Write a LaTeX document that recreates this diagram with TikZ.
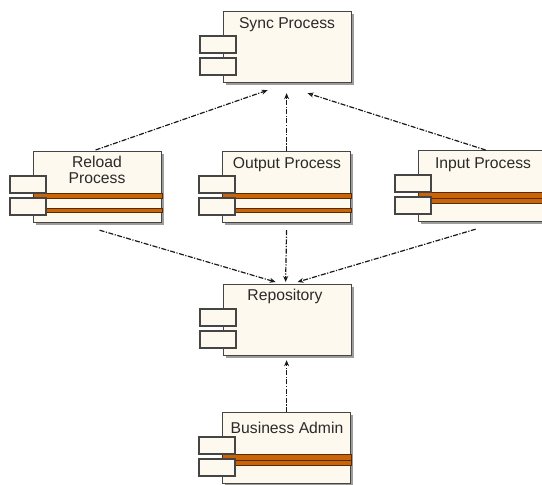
\documentclass[tikz,border=0pt]{standalone}
\usepackage{fontspec}
\setmainfont{Liberation Sans}
\usetikzlibrary{arrows.meta,shadows}

\definecolor{compfill}{HTML}{FEF9EE}
\definecolor{compline}{HTML}{454545}
\definecolor{barfill}{HTML}{C8650A}
\definecolor{barline}{HTML}{5A2A00}
\definecolor{txt}{HTML}{2A2A2A}

\tikzset{
  comp/.style={draw=compline, line width=1.2pt, fill=compfill, anchor=north west,
    minimum width=128pt, minimum height=71pt, inner sep=0pt,
    drop shadow={shadow xshift=2.5pt, shadow yshift=-2.5pt, fill=black!55, opacity=0.7}},
  port/.style={draw=compline, line width=1.1pt, fill=compfill},
  bar/.style={draw=barline, line width=0.7pt, fill=barfill},
  title/.style={text=txt, font=\fontsize{15.7}{16.5}\selectfont, align=center, inner sep=0pt},
  dep/.style={draw=black!90, line width=1.2pt,
    dash pattern=on 5pt off 1.5pt on 1.2pt off 1.5pt,
    -{Stealth[length=6pt,width=5pt]}},
}

% two port tabs on the left side of a component box
\newcommand\comptabs[1]{%
  \draw[port] ([xshift=-23pt,yshift=-25pt]#1.north west) rectangle ++(36,17);
  \draw[port] ([xshift=-23pt,yshift=-47pt]#1.north west) rectangle ++(36,17);
}
% orange bars: separated pair
\newcommand\barsapart[1]{%
  \draw[bar] ([yshift=-42pt]#1.north west) rectangle ([yshift=-47.5pt]#1.north east);
  \draw[bar] ([xshift=13pt,yshift=-57pt]#1.north west) rectangle ([yshift=-61.5pt]#1.north east);
}
% orange bars: adjoining pair
\newcommand\barsjoined[1]{%
  \draw[bar] ([yshift=-42.5pt]#1.north west) rectangle ([yshift=-48pt]#1.north east);
  \draw[bar] ([xshift=13pt,yshift=-48pt]#1.north west) rectangle ([yshift=-53pt]#1.north east);
}

\begin{document}
\begin{tikzpicture}[x=1pt,y=-1pt]
\useasboundingbox (0,0) rectangle (542,485);
\clip (0,0) rectangle (542,485);

% component boxes
\node[comp] (sync)   at (223,11)  {};
\node[comp] (reload) at (33,151)  {};
\node[comp] (output) at (222,151) {};
\node[comp] (input)  at (418,150) {};
\node[comp] (repo)   at (223,284) {};
\node[comp] (admin)  at (222,412) {};

% bars
\barsapart{reload}
\barsapart{output}
\barsjoined{input}
\barsjoined{admin}

% port tabs
\comptabs{sync}
\comptabs{reload}
\comptabs{output}
\comptabs{input}
\comptabs{repo}
\comptabs{admin}

% titles
\node[title] (syncT)   at (287,25)  {Sync Process};
\node[title] (reloadT) at (97,170)  {Reload\\Process};
\node[title] (outputT) at (287,165) {Output Process};
\node[title] (inputT)  at (483,165) {Input Process};
\node[title] (repoT)   at (285,296) {Repository};
\node[title] (adminT)  at (287,428) {Business Admin};

% dependencies towards Sync Process
\draw[dep] ([xshift=-2pt,yshift=1pt]reload.north) -- ([xshift=-20pt,yshift=-7pt]sync.south);
\draw[dep] (output.north) -- ([xshift=-1pt,yshift=-10pt]sync.south);
\draw[dep] ([xshift=3pt]input.north) -- ([xshift=20pt,yshift=-10pt]sync.south);

% dependencies towards Repository
\draw[dep] ([xshift=2pt,yshift=-7pt]reload.south) -- ([xshift=-12pt,yshift=2pt]repo.north);
\draw[dep] ([yshift=-7pt]output.south) -- ([xshift=-2pt,yshift=2pt]repo.north);
\draw[dep] ([xshift=-7pt,yshift=-7pt]input.south) -- ([xshift=10pt,yshift=2pt]repo.north);
\draw[dep] (admin.north) -- ([xshift=-1pt,yshift=-4pt]repo.south);
\end{tikzpicture}
\end{document}
